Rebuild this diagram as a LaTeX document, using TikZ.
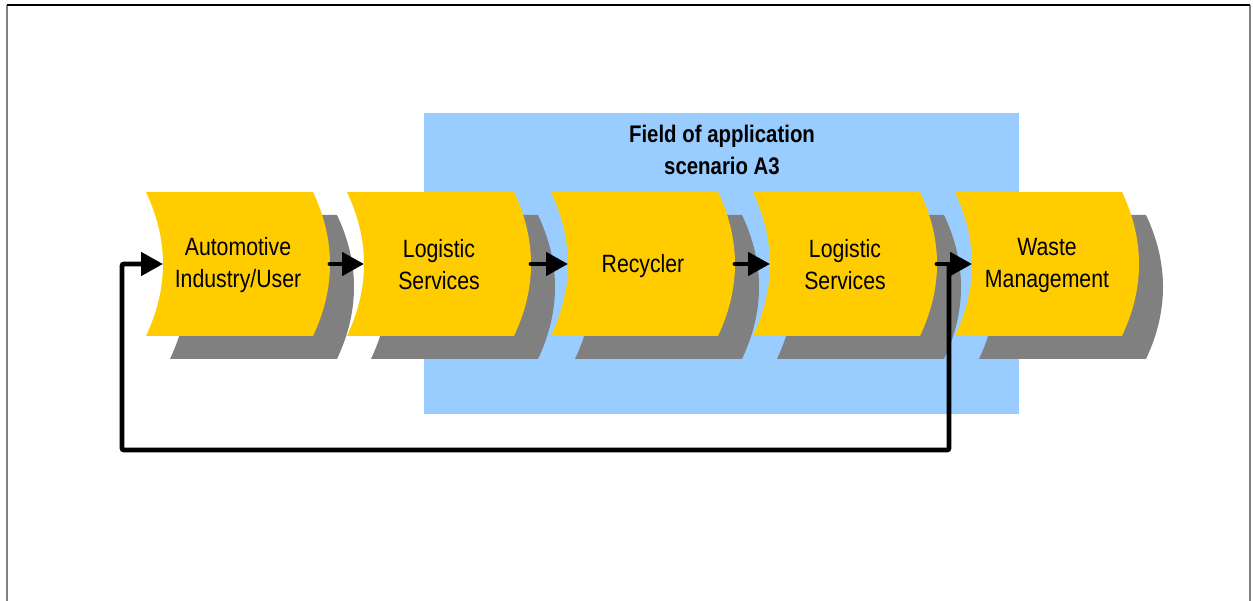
\documentclass[tikz,border=0pt]{standalone}
\usepackage{fontspec}
\setmainfont{Liberation Sans}[FakeStretch=0.85]
\usetikzlibrary{arrows.meta}

\definecolor{stepyellow}{HTML}{FFCC00}
\definecolor{stepshadow}{HTML}{808080}
\definecolor{fieldblue}{HTML}{99CCFF}
\definecolor{framegray}{HTML}{808080}

% w = width of the straight edges, h = height, d = depth of the curved sides
\newcommand\chevw{167}
\newcommand\chevh{144}
\newcommand\chevd{17}
% \chevronshape{left x}{top y}
\newcommand\chevronshape[2]{%
  (#1,#2) -- ({#1+\chevw},#2)
  .. controls ({#1+\chevw+4*\chevd/3},{#2+\chevh/3}) and ({#1+\chevw+4*\chevd/3},{#2+2*\chevh/3}) .. ({#1+\chevw},{#2+\chevh})
  -- (#1,{#2+\chevh})
  .. controls ({#1+4*\chevd/3},{#2+2*\chevh/3}) and ({#1+4*\chevd/3},{#2+\chevh/3}) .. (#1,#2) -- cycle}

\tikzset{
  steplabel/.style={font=\fontsize{25}{32}\selectfont, align=center, inner sep=0pt},
  fieldlabel/.style={font=\bfseries\fontsize{24}{32}\selectfont, align=center, inner sep=0pt},
  flow/.style={line width=4.8pt, line cap=round, -{Triangle[length=22pt,width=23pt]}},
  feedback/.style={line width=4.8pt, rounded corners=2pt, -{Triangle[length=22pt,width=23pt]}},
}

\begin{document}
\begin{tikzpicture}[x=1pt, y=-1pt]
  \useasboundingbox (0,0) rectangle (1253,601);

  % page frame
  \draw[framegray, line width=1.5pt] (7,5) -- (7,601);
  \draw[framegray, line width=1.5pt] (1250,5) -- (1250,601);
  \draw[black, line width=1.2pt] (7,5) -- (1250,5);

  % field of application
  \fill[fieldblue] (424,113) rectangle (1019,414);
  \node[fieldlabel] (field) at (722,150) {Field of application\\scenario A3};

  % process steps with their shadows
  \foreach \L in {146,347,551,753,955} {
    \fill[stepshadow] \chevronshape{\L+24}{215};
    \fill[stepyellow] \chevronshape{\L}{192};
  }

  \node[steplabel] (s1) at (238,265) {Automotive\\Industry/User};
  \node[steplabel] (s2) at (439,265) {Logistic\\Services};
  \node[steplabel] (s3) at (643,266) {Recycler};
  \node[steplabel] (s4) at (845,265) {Logistic\\Services};
  \node[steplabel] (s5) at (1047,265) {Waste\\Management};

  % connection points on the curved sides
  \coordinate (s1in)  at (163,264);
  \coordinate (s1out) at (330,264);
  \coordinate (s2in)  at (364,264);
  \coordinate (s2out) at (531,264);
  \coordinate (s3in)  at (568,264);
  \coordinate (s3out) at (735,264);
  \coordinate (s4in)  at (770,264);
  \coordinate (s4out) at (937,264);
  \coordinate (s5in)  at (972,264);

  \draw[flow] (s1out) -- (s2in);
  \draw[flow] (s2out) -- (s3in);
  \draw[flow] (s3out) -- (s4in);
  \draw[flow] (s4out) -- (s5in);

  % return loop back to the first step
  \coordinate (fb)  at (949,264);
  \coordinate (fbl) at (122,450);
  \draw[feedback] (fb) |- (fbl) |- (s1in);
\end{tikzpicture}
\end{document}
